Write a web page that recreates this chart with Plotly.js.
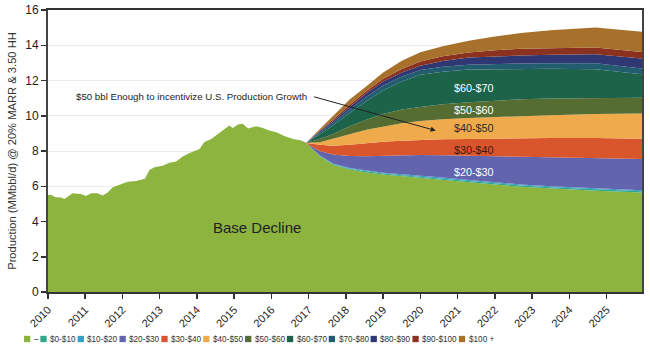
<!DOCTYPE html>
<html>
<head>
<meta charset="utf-8">
<script src="https://cdn.plot.ly/plotly-3.0.1.min.js"></script>
<style>html,body{margin:0;padding:0;background:#fff;}#chart{width:650px;height:350px;}</style>
</head>
<body>
<div id="chart"></div>
<script>
// ---------- DATA ----------
const histYears = [2010.0, 2010.08, 2010.2, 2010.35, 2010.44, 2010.55, 2010.66, 2010.88, 2011.02, 2011.16, 2011.33, 2011.47, 2011.6, 2011.74, 2012.0, 2012.14, 2012.37, 2012.48, 2012.6, 2012.73, 2012.86, 2013.08, 2013.26, 2013.44, 2013.62, 2013.8, 2014.07, 2014.2, 2014.38, 2014.6, 2014.74, 2014.87, 2014.96, 2015.1, 2015.23, 2015.37, 2015.59, 2015.77, 2015.95, 2016.13, 2016.36, 2016.58, 2016.8];
const histBase = [5.50, 5.52, 5.38, 5.36, 5.28, 5.45, 5.60, 5.56, 5.45, 5.60, 5.60, 5.47, 5.64, 5.94, 6.17, 6.26, 6.30, 6.36, 6.42, 6.93, 7.08, 7.16, 7.33, 7.40, 7.69, 7.88, 8.11, 8.51, 8.68, 9.02, 9.25, 9.44, 9.31, 9.50, 9.54, 9.27, 9.40, 9.31, 9.17, 9.06, 8.83, 8.68, 8.60];

const projYears = [2016.93, 2017.3, 2017.65, 2018.1, 2018.55, 2019.0, 2019.5, 2020.0, 2020.6, 2021.3, 2022.0, 2022.7, 2023.5, 2024.7, 2025.95];
const projBase  = [8.45, 7.70, 7.22, 6.95, 6.78, 6.66, 6.56, 6.48, 6.36, 6.23, 6.10, 5.97, 5.87, 5.75, 5.65];

const band0to10   = [0, 0.02, 0.04, 0.05, 0.06, 0.06, 0.07, 0.07, 0.07, 0.07, 0.07, 0.07, 0.07, 0.07, 0.07];
const band10to20  = [0, 0.02, 0.03, 0.04, 0.05, 0.05, 0.05, 0.06, 0.06, 0.06, 0.06, 0.06, 0.06, 0.06, 0.06];
const band20to30  = [0, 0.26, 0.51, 0.68, 0.81, 0.95, 1.08, 1.17, 1.27, 1.37, 1.47, 1.56, 1.63, 1.72, 1.76];
const band30to40  = [0, 0.35, 0.50, 0.64, 0.75, 0.80, 0.82, 0.85, 0.90, 0.95, 1.01, 1.07, 1.11, 1.14, 1.16];
const band40to50  = [0, 0.15, 0.38, 0.59, 0.75, 0.88, 1.00, 1.07, 1.14, 1.19, 1.22, 1.25, 1.29, 1.36, 1.43];
const band50to60  = [0, 0.20, 0.27, 0.45, 0.58, 0.70, 0.77, 0.80, 0.85, 0.89, 0.93, 0.95, 0.95, 0.92, 0.89];
const band60to70  = [0, 0.25, 0.49, 0.75, 1.05, 1.35, 1.60, 1.83, 1.85, 1.86, 1.78, 1.71, 1.68, 1.62, 1.33];
const band70to80  = [0, 0.10, 0.15, 0.20, 0.25, 0.27, 0.27, 0.27, 0.28, 0.28, 0.30, 0.32, 0.32, 0.34, 0.33];
const band80to90  = [0, 0.07, 0.10, 0.15, 0.19, 0.23, 0.23, 0.24, 0.32, 0.40, 0.44, 0.46, 0.48, 0.51, 0.57];
const band90to100 = [0, 0.05, 0.09, 0.12, 0.13, 0.15, 0.20, 0.24, 0.28, 0.29, 0.34, 0.38, 0.38, 0.38, 0.37];
const band100plus = [0, 0.08, 0.19, 0.30, 0.28, 0.35, 0.47, 0.52, 0.57, 0.66, 0.78, 0.90, 1.01, 1.14, 1.14];

const seriesNames = ['–', '$0-$10', '$10-$20', '$20-$30', '$30-$40', '$40-$50', '$50-$60', '$60-$70', '$70-$80', '$80-$90', '$90-$100', '$100 +'];
const tickYears = [2010, 2011, 2012, 2013, 2014, 2015, 2016, 2017, 2018, 2019, 2020, 2021, 2022, 2023, 2024, 2025];
const tickLabels = tickYears.map(String);

// ---------- STYLE ----------
const colors = ['#8cb43f', '#2fa98a', '#3b9cc4', '#6264ae', '#d9552b', '#efab4b', '#566d31', '#1c6349', '#215d6e', '#303874', '#8b3120', '#a7712b'];
const FONT = 'Liberation Sans, Arial, sans-serif';

const bands = [band0to10, band10to20, band20to30, band30to40, band40to50, band50to60, band60to70, band70to80, band80to90, band90to100, band100plus];

const traces = [];
traces.push({
  type: 'scatter', mode: 'lines', stackgroup: 'one',
  x: histYears.concat(projYears), y: histBase.concat(projBase),
  name: seriesNames[0], line: {width: 0, color: colors[0]}, fillcolor: colors[0],
  hoverinfo: 'skip', showlegend: false
});
bands.forEach((b, i) => {
  traces.push({
    type: 'scatter', mode: 'lines', stackgroup: 'one',
    x: projYears, y: b,
    name: seriesNames[i + 1], line: {width: 0, color: colors[i + 1]}, fillcolor: colors[i + 1],
    hoverinfo: 'skip', showlegend: false
  });
});

const W = 650, H = 350, M = {l: 48, r: 8, t: 10, b: 58};
const pw = W - M.l - M.r, ph = H - M.t - M.b;
const px2x = p => (p - M.l) / pw;
const px2y = p => (H - M.b - p) / ph;

// compact legend (squares + labels) laid out from the series names and colours
const LEG_FONT_SIZE = 8.2;
const ctx = document.createElement('canvas').getContext('2d');
ctx.font = LEG_FONT_SIZE + 'px "Liberation Sans", Arial, sans-serif';
const legY = 339, sq = 6.3;
const shapes = [];
const annotations = [];
let cx = 24;
seriesNames.forEach((n, i) => {
  shapes.push({type: 'rect', xref: 'paper', yref: 'paper',
    x0: px2x(cx), x1: px2x(cx + sq),
    y0: px2y(legY - sq / 2), y1: px2y(legY + sq / 2),
    fillcolor: colors[i], line: {width: 0}});
  annotations.push({xref: 'paper', yref: 'paper', x: px2x(cx + sq + 1.5), y: px2y(legY),
    xanchor: 'left', yanchor: 'middle', showarrow: false, text: n,
    font: {family: FONT, size: LEG_FONT_SIZE, color: '#333'}});
  cx += sq + 2 + ctx.measureText(n).width + 3.5;
});

// chart annotations
annotations.push({x: 2015.6, y: 3.68, xref: 'x', yref: 'y', text: 'Base Decline', showarrow: false,
  font: {family: FONT, size: 15, color: '#222'}});
annotations.push({x: 2017.0, y: 11.1, xref: 'x', yref: 'y', xanchor: 'right', text: '$50 bbl Enough to incentivize U.S. Production Growth',
  showarrow: false, font: {family: FONT, size: 9.7, color: '#222'}});
annotations.push({x: 2020.41, y: 9.16, xref: 'x', yref: 'y', ax: 2017.1, ay: 11.1, axref: 'x', ayref: 'y',
  text: '', showarrow: true, arrowhead: 2, arrowsize: 1, arrowwidth: 1, arrowcolor: '#222'});
const bandLabels = [
  {t: '$60-$70', y: 11.59, c: '#ffffff'},
  {t: '$50-$60', y: 10.31, c: '#ffffff'},
  {t: '$40-$50', y: 9.31, c: '#2a2a2a'},
  {t: '$30-$40', y: 8.07, c: '#3a1a10'},
  {t: '$20-$30', y: 6.83, c: '#ffffff'}
];
bandLabels.forEach(b => annotations.push({x: 2021.44, y: b.y, xref: 'x', yref: 'y', text: b.t, showarrow: false,
  font: {family: FONT, size: 10.8, color: b.c}}));

const layout = {
  width: W, height: H, margin: M,
  paper_bgcolor: '#fff', plot_bgcolor: '#fff',
  showlegend: false,
  font: {family: FONT, color: '#333'},
  xaxis: {
    range: [2010, 2025.95], tickvals: tickYears, ticktext: tickLabels, tickangle: -45,
    ticks: 'outside', ticklen: 5, tickwidth: 1.5, tickcolor: '#333',
    showline: true, linewidth: 2, linecolor: '#333', mirror: true,
    showgrid: false, zeroline: false,
    tickfont: {family: FONT, size: 11, color: '#222'}
  },
  yaxis: {
    range: [0, 16], dtick: 2, tick0: 0,
    ticks: 'outside', ticklen: 5, tickwidth: 1.5, tickcolor: '#333',
    showline: true, linewidth: 2, linecolor: '#444', mirror: true,
    showgrid: true, gridcolor: '#ebebeb', gridwidth: 1, zeroline: false,
    tickfont: {family: FONT, size: 12, color: '#222'},
    title: {text: 'Production (MMbbl/d) @ 20% MARR & 3.50 HH', font: {family: FONT, size: 11.2, color: '#333'}, standoff: 6}
  },
  shapes: shapes,
  annotations: annotations
};

Plotly.newPlot('chart', traces, layout, {displayModeBar: false, staticPlot: true});
</script>
</body>
</html>
